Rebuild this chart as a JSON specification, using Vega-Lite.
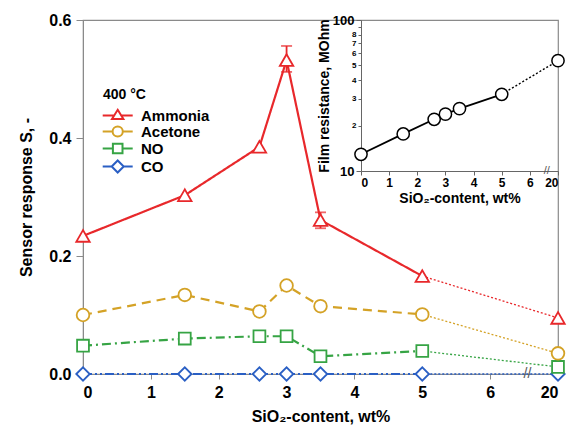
{
  "$schema": "https://vega.github.io/schema/vega-lite/v6.json",
  "width": 475,
  "height": 354,
  "autosize": {"type": "none"},
  "padding": {"left": 83, "top": 20, "right": 10, "bottom": 51},
  "background": "white",
  "config": {
    "view": {"stroke": "#8a8a8a", "strokeWidth": 1.2},
    "font": "Liberation Sans",
    "axis": {"grid": false, "labelColor": "black", "titleColor": "black", "labelFontWeight": "bold", "titleFontWeight": "bold", "domainColor": "#8a8a8a", "tickColor": "#8a8a8a", "labelFont": "Liberation Sans", "titleFont": "Liberation Sans"}
  },
  "datasets": {
    "sensor": [
      {"gas": "Ammonia", "wt": 0, "x": 0, "y": 0.234},
      {"gas": "Ammonia", "wt": 1.5, "x": 1.5, "y": 0.303},
      {"gas": "Ammonia", "wt": 2.6, "x": 2.6, "y": 0.385},
      {"gas": "Ammonia", "wt": 3, "x": 3, "y": 0.532},
      {"gas": "Ammonia", "wt": 3.5, "x": 3.5, "y": 0.261},
      {"gas": "Ammonia", "wt": 5, "x": 5, "y": 0.166},
      {"gas": "Ammonia", "wt": 20, "x": 7, "y": 0.095},
      {"gas": "Acetone", "wt": 0, "x": 0, "y": 0.100},
      {"gas": "Acetone", "wt": 1.5, "x": 1.5, "y": 0.134},
      {"gas": "Acetone", "wt": 2.6, "x": 2.6, "y": 0.106},
      {"gas": "Acetone", "wt": 3, "x": 3, "y": 0.150},
      {"gas": "Acetone", "wt": 3.5, "x": 3.5, "y": 0.115},
      {"gas": "Acetone", "wt": 5, "x": 5, "y": 0.101},
      {"gas": "Acetone", "wt": 20, "x": 7, "y": 0.035},
      {"gas": "NO", "wt": 0, "x": 0, "y": 0.048},
      {"gas": "NO", "wt": 1.5, "x": 1.5, "y": 0.060},
      {"gas": "NO", "wt": 2.6, "x": 2.6, "y": 0.064},
      {"gas": "NO", "wt": 3, "x": 3, "y": 0.064},
      {"gas": "NO", "wt": 3.5, "x": 3.5, "y": 0.030},
      {"gas": "NO", "wt": 5, "x": 5, "y": 0.039},
      {"gas": "NO", "wt": 20, "x": 7, "y": 0.012},
      {"gas": "CO", "wt": 0, "x": 0, "y": 0},
      {"gas": "CO", "wt": 1.5, "x": 1.5, "y": 0},
      {"gas": "CO", "wt": 2.6, "x": 2.6, "y": 0},
      {"gas": "CO", "wt": 3, "x": 3, "y": 0},
      {"gas": "CO", "wt": 3.5, "x": 3.5, "y": 0},
      {"gas": "CO", "wt": 5, "x": 5, "y": 0},
      {"gas": "CO", "wt": 20, "x": 7, "y": 0}
    ],
    "err": [
      {"bar": "a", "x": 3, "y": 0.512},
      {"bar": "a", "x": 3, "y": 0.556},
      {"bar": "b", "x": 3.5, "y": 0.247},
      {"bar": "b", "x": 3.5, "y": 0.274}
    ],
    "brk": [{"x": 6.55, "y": 0, "t": "//"}],
    "res": [
      {"wt": 0, "x": 0, "r": 12.9},
      {"wt": 1.5, "x": 1.5, "r": 17.6},
      {"wt": 2.6, "x": 2.6, "r": 22.0},
      {"wt": 3, "x": 3, "r": 23.8},
      {"wt": 3.5, "x": 3.5, "r": 25.9},
      {"wt": 5, "x": 5, "r": 32.2},
      {"wt": 20, "x": 7, "r": 53.8}
    ],
    "brk2": [{"x": 6.6, "r": 10, "t": "//"}]
  },
  "layer": [
    {
      "encoding": {
        "x": {"field": "x", "type": "quantitative", "scale": {"domain": [0, 7], "nice": false, "zero": false},
          "axis": {"orient": "bottom", "values": [0, 1, 2, 3, 4, 5, 6, 7], "labelExpr": "datum.value == 7 ? '20' : datum.label", "labelFontSize": 16, "tickSize": 5, "labelPadding": 5, "title": "SiO₂-content, wt%", "titleFontSize": 16, "titlePadding": 8}},
        "y": {"field": "y", "type": "quantitative", "scale": {"domain": [0, 0.6], "nice": false},
          "axis": {"orient": "left", "values": [0, 0.2, 0.4, 0.6], "format": ".1f", "labelFontSize": 16, "tickSize": 7, "labelPadding": 5, "title": "Sensor response S, -", "titleFontSize": 16, "titlePadding": 14}}
      },
      "layer": [
        {
          "data": {"name": "sensor"},
          "transform": [{"filter": "datum.x <= 5"}],
          "mark": {"type": "line", "strokeWidth": 2.2},
          "encoding": {
            "color": {"field": "gas", "type": "nominal", "legend": null, "scale": {"domain": ["CO", "NO", "Acetone", "Ammonia"], "range": ["#2a5fc4", "#36a444", "#d4a226", "#e8282b"]}},
            "strokeDash": {"field": "gas", "type": "nominal", "legend": null, "scale": {"domain": ["CO", "NO", "Acetone", "Ammonia"], "range": [[9, 3, 2, 3, 2, 3], [9, 4, 2, 4], [9, 6], [1, 0]]}}
          }
        },
        {
          "data": {"name": "sensor"},
          "transform": [{"filter": "datum.x >= 5"}],
          "mark": {"type": "line", "strokeWidth": 1.3, "strokeDash": [2, 2]},
          "encoding": {
            "color": {"field": "gas", "type": "nominal", "legend": null}
          }
        },
        {
          "data": {"name": "err"},
          "mark": {"type": "line", "color": "#e8282b", "strokeWidth": 1.8},
          "encoding": {"detail": {"field": "bar", "type": "nominal"}}
        },
        {
          "data": {"name": "err"},
          "mark": {"type": "tick", "orient": "horizontal", "color": "#e8282b", "size": 11, "thickness": 1.8}
        },
        {
          "data": {"name": "brk"},
          "mark": {"type": "text", "fontSize": 14, "color": "#555", "baseline": "middle", "align": "center"},
          "encoding": {"text": {"field": "t"}}
        },
        {
          "data": {"name": "sensor"},
          "transform": [{"filter": "datum.gas == 'CO'"}],
          "mark": {"type": "point", "shape": "diamond", "filled": false, "fill": "white", "fillOpacity": 1, "strokeWidth": 1.8, "size": 180, "opacity": 1},
          "encoding": {"color": {"field": "gas", "type": "nominal", "legend": null}}
        },
        {
          "data": {"name": "sensor"},
          "transform": [{"filter": "datum.gas == 'NO'"}],
          "mark": {"type": "point", "shape": "square", "filled": false, "fill": "white", "fillOpacity": 1, "strokeWidth": 1.8, "size": 140, "opacity": 1},
          "encoding": {"color": {"field": "gas", "type": "nominal", "legend": null}}
        },
        {
          "data": {"name": "sensor"},
          "transform": [{"filter": "datum.gas == 'Acetone'"}],
          "mark": {"type": "point", "shape": "circle", "filled": false, "fill": "white", "fillOpacity": 1, "strokeWidth": 1.8, "size": 160, "opacity": 1},
          "encoding": {"color": {"field": "gas", "type": "nominal", "legend": null}}
        },
        {
          "data": {"name": "sensor"},
          "transform": [{"filter": "datum.gas == 'Ammonia'"}],
          "mark": {"type": "point", "shape": "triangle-up", "filled": false, "fill": "white", "fillOpacity": 1, "strokeWidth": 1.8, "size": 180, "opacity": 1},
          "encoding": {"color": {"field": "gas", "type": "nominal", "legend": null}}
        },
        {
          "data": {"name": "sensor"},
          "transform": [{"filter": "false"}],
          "mark": {"type": "point", "filled": false, "strokeWidth": 2, "opacity": 1},
          "encoding": {
            "stroke": {"field": "gas", "type": "nominal", "scale": {"domain": ["Ammonia", "Acetone", "NO", "CO"], "range": ["#e8282b", "#d4a226", "#36a444", "#2a5fc4"]},
              "legend": {"orient": "none", "legendX": 20, "legendY": 68, "title": "400 °C", "titleFontSize": 14, "titleFontWeight": "bold", "titleColor": "black", "titlePadding": 6, "labelFontSize": 15, "labelFontWeight": "bold", "labelColor": "black", "symbolSize": 144, "symbolStrokeWidth": 2, "symbolOpacity": 1, "labelOffset": 23, "rowPadding": -2, "padding": 0,
                "encode": {"symbols": {"update": {"fill": {"value": "white"}, "opacity": {"value": 1}}}}}},
            "shape": {"field": "gas", "type": "nominal", "scale": {"domain": ["Ammonia", "Acetone", "NO", "CO"], "range": [
              "M-1.3,0H0.62M1.78,0H3.7M1.2,-0.95L2.15,0.6L0.25,0.6Z",
              "M-1.3,0H0.35M2.05,0H3.7M2.05,0A0.85,0.85,0,1,1,0.35,0A0.85,0.85,0,1,1,2.05,0Z",
              "M-1.3,0H0.4M2,0H3.7M0.4,-0.8H2V0.8H0.4Z",
              "M-1.3,0H0.2M2.2,0H3.7M0.2,0L1.2,-1L2.2,0L1.2,1Z"]}}
          }
        }
      ]
    },
    {
      "encoding": {
        "x": {"field": "x", "type": "quantitative", "scale": {"domain": [0, 7], "range": [278, 475], "nice": false, "zero": false},
          "axis": {"orient": "bottom", "offset": -203, "values": [0, 1, 2, 3, 4, 5, 6, 7], "labelExpr": "datum.value == 7 ? '20' : datum.label", "labelFontSize": 12, "tickSize": 4, "labelPadding": 2, "domainColor": "#666", "tickColor": "#666", "title": "SiO₂-content, wt%", "titleFontSize": 14, "titlePadding": 3}},
        "y": {"field": "r", "type": "quantitative", "scale": {"type": "log", "domain": [10, 100], "range": [151, 0], "nice": false},
          "axis": {"orient": "left", "offset": -278, "values": [10, 20, 30, 40, 50, 60, 70, 80, 90, 100], "labelOverlap": false,
            "labelExpr": "datum.value == 10 || datum.value == 100 ? '' + datum.value : (datum.value == 90 ? '' : '' + (datum.value / 10))",
            "labelFontSize": {"condition": {"test": "datum.value == 10 || datum.value == 100", "value": 13}, "value": 8},
            "tickSize": {"condition": {"test": "datum.value == 10 || datum.value == 100", "value": 5}, "value": 3},
            "labelPadding": 2, "domainColor": "#666", "tickColor": "#666", "title": "Film resistance, MOhm", "titleFontSize": 14, "titlePadding": 1}}
      },
      "layer": [
        {
          "data": {"name": "res"},
          "transform": [{"filter": "datum.x <= 5"}],
          "mark": {"type": "line", "color": "black", "strokeWidth": 1.8}
        },
        {
          "data": {"name": "res"},
          "transform": [{"filter": "datum.x >= 5"}],
          "mark": {"type": "line", "color": "black", "strokeWidth": 1.4, "strokeDash": [2, 2]}
        },
        {
          "data": {"name": "brk2"},
          "mark": {"type": "text", "fontSize": 11, "color": "#555", "baseline": "middle", "align": "center"},
          "encoding": {"text": {"field": "t"}}
        },
        {
          "data": {"name": "res"},
          "mark": {"type": "point", "shape": "circle", "fill": "white", "fillOpacity": 1, "stroke": "black", "strokeWidth": 1.5, "size": 150, "opacity": 1}
        }
      ]
    }
  ],
  "resolve": {"scale": {"x": "independent", "y": "independent"}, "axis": {"x": "independent", "y": "independent"}}
}
